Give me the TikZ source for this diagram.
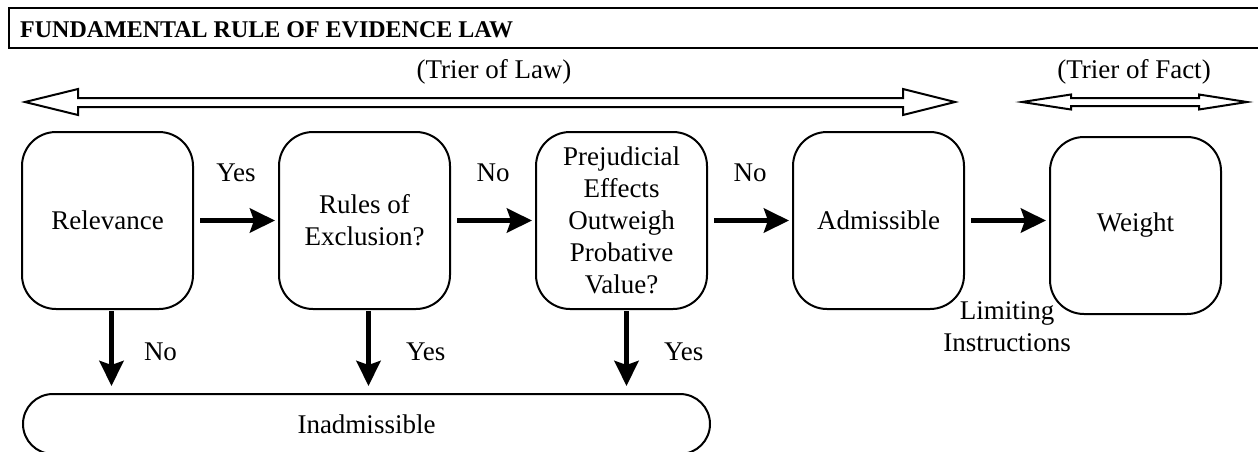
\documentclass[tikz,border=0pt]{standalone}
\usepackage{fontspec}
\setmainfont{Liberation Serif}
\usepackage{tikz}
\usetikzlibrary{arrows.meta,positioning}

\begin{document}
\begin{tikzpicture}[x=1pt,y=-1pt,font=\fontsize{27pt}{32pt}\selectfont,node distance=84pt,
stage/.style={draw,line width=2pt,rounded corners=34pt,align=center,minimum width=171pt,minimum height=177pt,inner sep=0pt},
flow/.style={-{Stealth[length=25pt,width=24pt,inset=4pt]},line width=5pt,shorten <=6pt,shorten >=3pt},
hollow/.style={draw,line width=2pt,line join=miter,fill=white},
lbl/.style={inner sep=0pt}]
\useasboundingbox (0,0) rectangle (1258,451);
% title bar
\draw[line width=1.5pt] (9,8) rectangle (1270,48);
\node[lbl,anchor=west,font=\fontsize{24pt}{28pt}\selectfont\bfseries] (title) at (20,30) {FUNDAMENTAL RULE OF EVIDENCE LAW};
% who decides
\draw[hollow] (25,102) -- (78,89) -- (78,98) -- (903,98) -- (903,89) -- (955,102) -- (903,115) -- (903,107) -- (78,107) -- (78,115) -- cycle;
\node[lbl] (law) at (494,72) {(Trier of Law)};
\draw[hollow] (1022,102) -- (1071,94.5) -- (1071,98) -- (1199,98) -- (1199,94.5) -- (1247,102) -- (1199,109.5) -- (1199,106) -- (1071,106) -- (1071,109.5) -- cycle;
\node[lbl] (fact) at (1134,72) {(Trier of Fact)};
% stages
\node[stage] (relev) at (107.5,220.5) {Relevance};
\node[stage,right=of relev] (excl) {Rules of\\Exclusion?};
\node[stage,right=of excl] (prej) {Prejudicial\\Effects\\Outweigh\\Probative\\Value?};
\node[stage,right=of prej] (admis) {Admissible};
\node[stage,right=of admis,yshift=-5pt] (weight) {Weight};
\node[draw,line width=2pt,rounded corners=30pt,minimum width=687pt,minimum height=60pt] (inadm) at (366.5,424) {Inadmissible};
% connectors
\draw[flow] (relev) -- (excl) node[lbl,midway,yshift=48pt] {Yes};
\draw[flow] (excl) -- (prej) node[lbl,midway,yshift=48pt] {No};
\draw[flow] (prej) -- (admis) node[lbl,midway,yshift=48pt] {No};
\draw[flow] (admis) -- (admis-|weight.west) node[lbl,midway,yshift=-106pt,align=center] {Limiting\\Instructions};
\draw[flow,shorten <=1pt,shorten >=7pt] ([xshift=4pt]relev.south) -- ([xshift=4pt]relev.south|-inadm.north) node[lbl,midway,right=30pt] {No};
\draw[flow,shorten <=1pt,shorten >=7pt] ([xshift=4pt]excl.south) -- ([xshift=4pt]excl.south|-inadm.north) node[lbl,midway,right=35pt] {Yes};
\draw[flow,shorten <=1pt,shorten >=7pt] ([xshift=5pt]prej.south) -- ([xshift=5pt]prej.south|-inadm.north) node[lbl,midway,right=35pt] {Yes};
\end{tikzpicture}
\end{document}
